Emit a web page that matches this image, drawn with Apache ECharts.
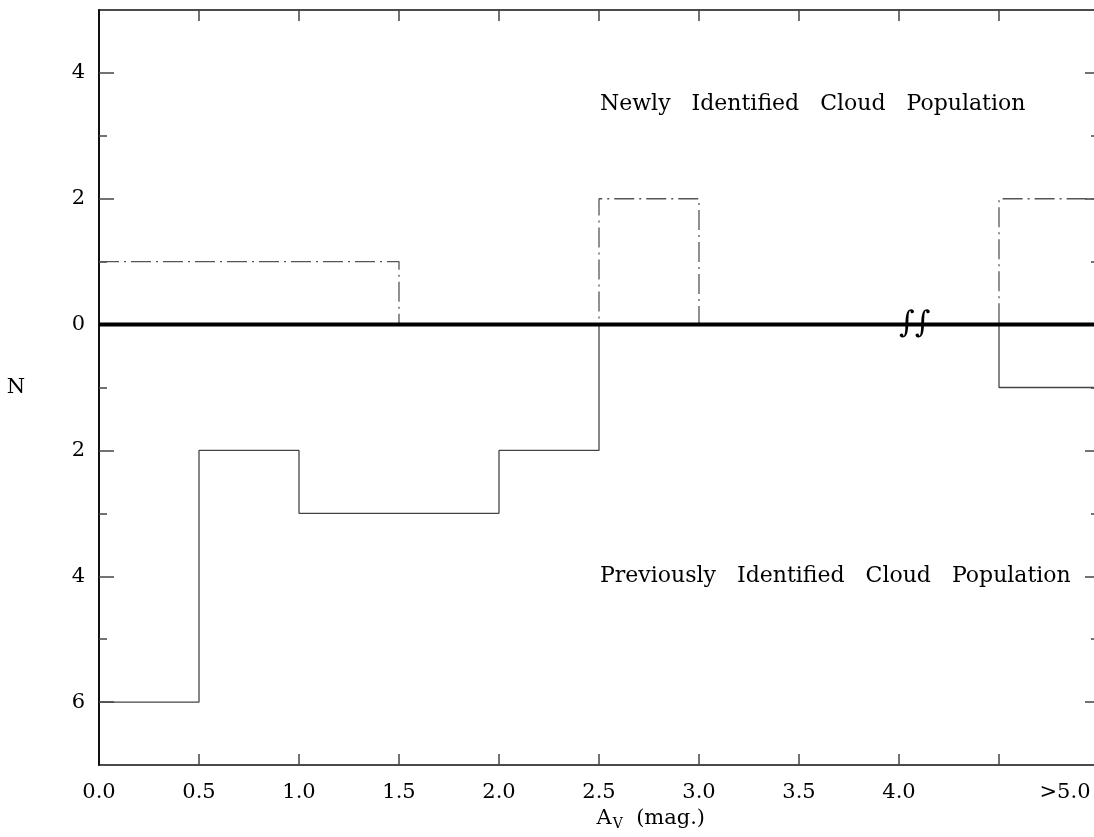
<!DOCTYPE html>
<html><head><meta charset="utf-8">
<script src="https://cdn.jsdelivr.net/npm/echarts@6/dist/echarts.min.js"></script>
<style>html,body{margin:0;padding:0;background:#fff}#c{width:1094px;height:837px}</style>
</head><body><div id="c"></div>
<script>
// ---- data ----
const binEdges = [0.0, 0.5, 1.0, 1.5, 2.0, 2.5, 3.0, 3.5, 4.0, 4.5, 5.0];
const newCounts = [1, 1, 1, 0, 0, 2, 0, 0, 0, 2];      // Newly identified (plotted upward)
const prevCounts = [6, 2, 3, 3, 2, 0, 0, 0, 0, 1];     // Previously identified (plotted downward)
const xTickLabels = ['0.0', '0.5', '1.0', '1.5', '2.0', '2.5', '3.0', '3.5', '4.0'];
const lastBinLabel = '>5.0';
const lastBinLabelAt = [4.83];
const yMajorTicks = [-6, -4, -2, 0, 2, 4];
const yMinorTicks = [-5, -3, -1, 1, 3];
const xTicks = [0.5, 1.0, 1.5, 2.0, 2.5, 3.0, 3.5, 4.0, 4.5];
const annotations = [
  { text: 'Newly   Identified   Cloud   Population', x: 2.5, y: 3.5 },
  { text: 'Previously   Identified   Cloud   Population', x: 2.5, y: -4 }
];
const breakMark = { text: '\u222B\u222B', x: 4.08, y: 0 };

// ---- build ----
function stepPoints(counts, sign) {
  const pts = counts.map((c, i) => [binEdges[i], sign * c]);
  pts.push([binEdges[counts.length], sign * counts[counts.length - 1]]);
  return pts;
}
const FONT = 'DejaVu Serif';
const txt = { fontFamily: FONT, fontSize: 21, color: '#000' };
const chart = echarts.init(document.getElementById('c'));
const axisLineStyle = { color: '#111', width: 1.5 };
const tickStyle = { color: '#444', width: 1.5 };
const X_MAX = 4.975; // plot frame extends just past the picture's right edge
const hiddenLine = { show: false, onZero: false };

chart.setOption({
  animation: false,
  backgroundColor: '#fff',
  grid: { left: 99, top: 10, right: 0, bottom: 72 },
  xAxis: [
    { type: 'value', min: 0, max: X_MAX, position: 'bottom',
      axisLine: { show: true, onZero: false, lineStyle: axisLineStyle },
      axisTick: { show: true, inside: true, length: 11, customValues: xTicks, lineStyle: tickStyle },
      axisLabel: { show: true, margin: 17, customValues: xTickLabels.map(Number),
        formatter: v => xTickLabels[xTickLabels.map(Number).indexOf(v)] || '', ...txt },
      splitLine: { show: false },
      name: '{a|A}{s|V}{a|  (mag.)}', nameLocation: 'middle', nameGap: 36,
      nameTextStyle: { align: 'left', rich: {
        a: { fontFamily: FONT, fontSize: 21, color: '#000' },
        s: { fontFamily: FONT, fontSize: 14, color: '#000', padding: [11, 0, 0, 1] } } }
    },
    { type: 'value', min: 0, max: X_MAX, position: 'bottom',
      axisLine: hiddenLine, axisTick: { show: false }, splitLine: { show: false },
      axisLabel: { show: true, margin: 17, customValues: lastBinLabelAt, formatter: () => lastBinLabel, ...txt }
    },
    { type: 'value', min: 0, max: X_MAX, position: 'top',
      axisLine: { show: true, onZero: false, lineStyle: axisLineStyle },
      axisTick: { show: true, inside: true, length: 11, customValues: xTicks, lineStyle: tickStyle },
      axisLabel: { show: false }, splitLine: { show: false }
    }
  ],
  yAxis: [
    { type: 'value', min: -7, max: 5, position: 'left',
      axisLine: { show: true, onZero: false, lineStyle: { color: '#111', width: 2 } },
      axisTick: { show: true, inside: true, length: 15, customValues: yMajorTicks, lineStyle: tickStyle },
      axisLabel: { show: true, margin: 14, customValues: yMajorTicks, formatter: v => String(Math.abs(v)), ...txt },
      splitLine: { show: false },
      name: 'N', nameLocation: 'middle', nameGap: 74, nameRotate: 0,
      nameTextStyle: { fontFamily: FONT, fontSize: 21, color: '#000' }
    },
    { type: 'value', min: -7, max: 5, position: 'left',
      axisLine: hiddenLine,
      axisTick: { show: true, inside: true, length: 8, customValues: yMinorTicks, lineStyle: tickStyle },
      axisLabel: { show: false }, splitLine: { show: false }
    },
    { type: 'value', min: -7, max: 5, position: 'right',
      axisLine: hiddenLine,
      axisTick: { show: true, inside: true, length: 9, customValues: yMajorTicks, lineStyle: tickStyle },
      axisLabel: { show: false }, splitLine: { show: false }
    },
    { type: 'value', min: -7, max: 5, position: 'right',
      axisLine: hiddenLine,
      axisTick: { show: true, inside: true, length: 3, customValues: yMinorTicks, lineStyle: tickStyle },
      axisLabel: { show: false }, splitLine: { show: false }
    }
  ],
  series: [
    { type: 'line', name: 'Newly', step: 'end', showSymbol: false, symbol: 'none', z: 2,
      data: stepPoints(newCounts, 1),
      lineStyle: { color: '#555', width: 1.3, type: [20, 5, 2, 5] } },
    { type: 'line', name: 'Previously', step: 'end', showSymbol: false, symbol: 'none', z: 2,
      data: stepPoints(prevCounts, -1),
      lineStyle: { color: '#444', width: 1.3, type: 'solid' } },
    { type: 'line', name: 'zero', showSymbol: false, symbol: 'none', z: 3,
      data: [[binEdges[0], 0], [binEdges[binEdges.length - 1], 0]],
      lineStyle: { color: '#000', width: 4 } },
    { type: 'scatter', symbolSize: 0, z: 5, silent: true, itemStyle: { opacity: 1 },
      data: annotations.map(a => ({ value: [a.x, a.y], label: { formatter: a.text } })),
      label: { show: true, position: 'right', distance: 1, fontFamily: FONT, fontSize: 22, color: '#000' } },
    { type: 'scatter', symbolSize: 0, z: 5, silent: true, itemStyle: { opacity: 1 },
      data: [{ value: [breakMark.x, breakMark.y], label: { formatter: breakMark.text } }],
      label: { show: true, position: 'inside', fontFamily: FONT, fontSize: 30, fontStyle: 'italic', color: '#000' } }
  ]
});
</script></body></html>
